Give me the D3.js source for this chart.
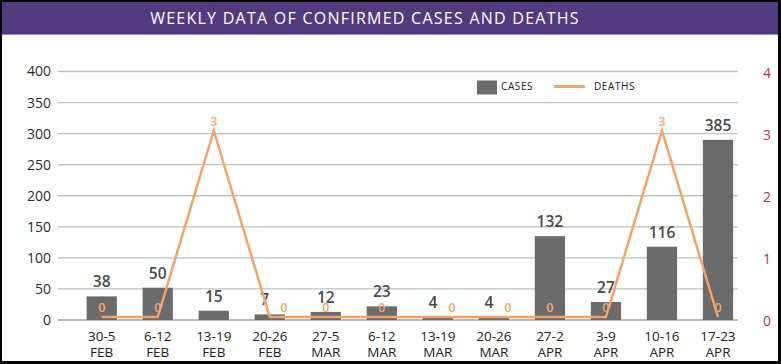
<!DOCTYPE html>
<html>
<head>
<meta charset="utf-8">
<script src="https://cdn.jsdelivr.net/npm/d3@7"></script>
<style>
  html, body { margin: 0; padding: 0; background: #000; }
  svg { display: block; }
  text { font-family: "Open Sans", sans-serif; }
</style>
</head>
<body>
<div id="chart"></div>
<script>
var weeks = ['30-5', '6-12', '13-19', '20-26', '27-5', '6-12', '13-19', '20-26', '27-2', '3-9', '10-16', '17-23'];
var months = ['FEB', 'FEB', 'FEB', 'FEB', 'MAR', 'MAR', 'MAR', 'MAR', 'APR', 'APR', 'APR', 'APR'];
// label values as printed, bar heights as drawn in the picture (last bar is cut short there)
var cases = [38, 50, 15, 7, 12, 23, 4, 4, 132, 27, 116, 385];
var caseBars = [38, 52, 15, 9, 13, 22, 5, 5, 135, 29, 118, 290];
var deaths = [0, 0, 3, 0, 0, 0, 0, 0, 0, 0, 3, 0];
var leftTicks = [0, 50, 100, 150, 200, 250, 300, 350, 400];
var rightTicks = [0, 1, 2, 3, 4];

var W = 781, H = 364;
var svg = d3.select('#chart').append('svg')
    .attr('width', W)
    .attr('height', H);

// white card inside the black frame
svg.append('rect')
    .attr('x', 2).attr('y', 2)
    .attr('width', 776).attr('height', 359)
    .attr('fill', '#fff');

// header
svg.append('rect')
    .attr('x', 2).attr('y', 2)
    .attr('width', 776).attr('height', 32)
    .attr('fill', '#533a7e');
svg.append('rect')
    .attr('x', 2).attr('y', 34)
    .attr('width', 776).attr('height', 1)
    .attr('fill', '#9c8cb9');
svg.append('text')
    .attr('x', 365).attr('y', 24)
    .attr('text-anchor', 'middle')
    .attr('fill', '#fff')
    .attr('font-size', 16)
    .attr('letter-spacing', 1.25)
    .text('WEEKLY DATA OF CONFIRMED CASES AND DEATHS');

var y = d3.scaleLinear().domain([0, 400]).range([320, 71.5]);
var y2 = d3.scaleLinear().domain([0, 4]).range([320, 71.5]);
var x = d3.scaleBand().domain(d3.range(weeks.length)).range([73.7, 746]).paddingInner(0.46).paddingOuter(0.23);
var cx = function(i){ return x(i) + x.bandwidth() / 2; };

// gridlines
svg.append('g').selectAll('line').data(leftTicks).join('line')
    .attr('x1', 58).attr('x2', 738)
    .attr('y1', function(d){ return y(d); })
    .attr('y2', function(d){ return y(d); })
    .attr('stroke', function(d){ return d === 0 ? '#9aa3a3' : '#b8c2c2'; })
    .attr('stroke-width', 1.3);

// left axis
var leftAxis = svg.append('g')
    .attr('transform', 'translate(51,0)')
    .call(d3.axisLeft(y).tickValues(leftTicks).tickSize(0).tickPadding(0));
leftAxis.select('.domain').remove();
leftAxis.selectAll('text')
    .attr('font-size', 14)
    .attr('fill', '#2a2a2a')
    .attr('font-family', '"Open Sans", sans-serif');

// right axis
var rightAxis = svg.append('g')
    .attr('transform', 'translate(767,0)')
    .call(d3.axisRight(y2).tickValues(rightTicks).tickFormat(d3.format('d')).tickSize(0).tickPadding(0));
rightAxis.select('.domain').remove();
rightAxis.selectAll('text')
    .attr('text-anchor', 'middle')
    .attr('dy', '0.4em')
    .attr('font-size', 14)
    .attr('fill', '#c0304a')
    .attr('font-family', '"Open Sans", sans-serif');

// bars
svg.append('g').selectAll('rect').data(caseBars).join('rect')
    .attr('x', function(d, i){ return x(i); })
    .attr('y', function(d){ return y(d); })
    .attr('width', x.bandwidth())
    .attr('height', function(d){ return y(0) - y(d); })
    .attr('fill', '#6b6b6b');

// case labels (short bars nudge left to leave room for the death label)
svg.append('g').selectAll('text').data(cases).join('text')
    .attr('x', function(d, i){ return cx(i) - (caseBars[i] < 10 ? 5 : 0); })
    .attr('y', function(d, i){ return y(caseBars[i]) - 9; })
    .attr('text-anchor', 'middle')
    .attr('font-size', 15.5)
    .attr('font-weight', 600)
    .attr('fill', '#4a4a4a')
    .text(function(d){ return d; });

// deaths line
var line = d3.line()
    .x(function(d, i){ return cx(i); })
    .y(function(d){ return y2(d) - 3; });
svg.append('path')
    .datum(deaths)
    .attr('d', line)
    .attr('fill', 'none')
    .attr('stroke', '#f2a468')
    .attr('stroke-width', 2.5);

// death labels
svg.append('g').selectAll('text').data(deaths).join('text')
    .attr('x', function(d, i){ return cx(i) + (caseBars[i] < 10 ? 14 : 0); })
    .attr('y', function(d){ return y2(d) - 8; })
    .attr('text-anchor', 'middle')
    .attr('font-size', 12.5)
    .attr('font-weight', 600)
    .attr('fill', '#f4a56a')
    .text(function(d){ return d; });

// x labels
var xl = svg.append('g').selectAll('text').data(weeks).join('text')
    .attr('x', function(d, i){ return cx(i); })
    .attr('y', 341)
    .attr('text-anchor', 'middle')
    .attr('font-size', 13.5)
    .attr('fill', '#222');
xl.append('tspan').text(function(d){ return d; });
xl.append('tspan')
    .attr('x', function(d, i){ return cx(i); })
    .attr('dy', 16)
    .text(function(d, i){ return months[i]; });

// legend
var lg = svg.append('g');
lg.append('rect')
    .attr('x', 477).attr('y', 80.5)
    .attr('width', 20).attr('height', 14)
    .attr('fill', '#6b6b6b');
lg.append('text')
    .attr('x', 501).attr('y', 90)
    .attr('font-size', 10)
    .attr('letter-spacing', 0.6)
    .attr('fill', '#222')
    .text('CASES');
lg.append('line')
    .attr('x1', 554).attr('x2', 585)
    .attr('y1', 86.5).attr('y2', 86.5)
    .attr('stroke', '#f2a468')
    .attr('stroke-width', 3);
lg.append('text')
    .attr('x', 594).attr('y', 90)
    .attr('font-size', 10)
    .attr('letter-spacing', 0.6)
    .attr('fill', '#222')
    .text('DEATHS');
</script>
</body>
</html>
